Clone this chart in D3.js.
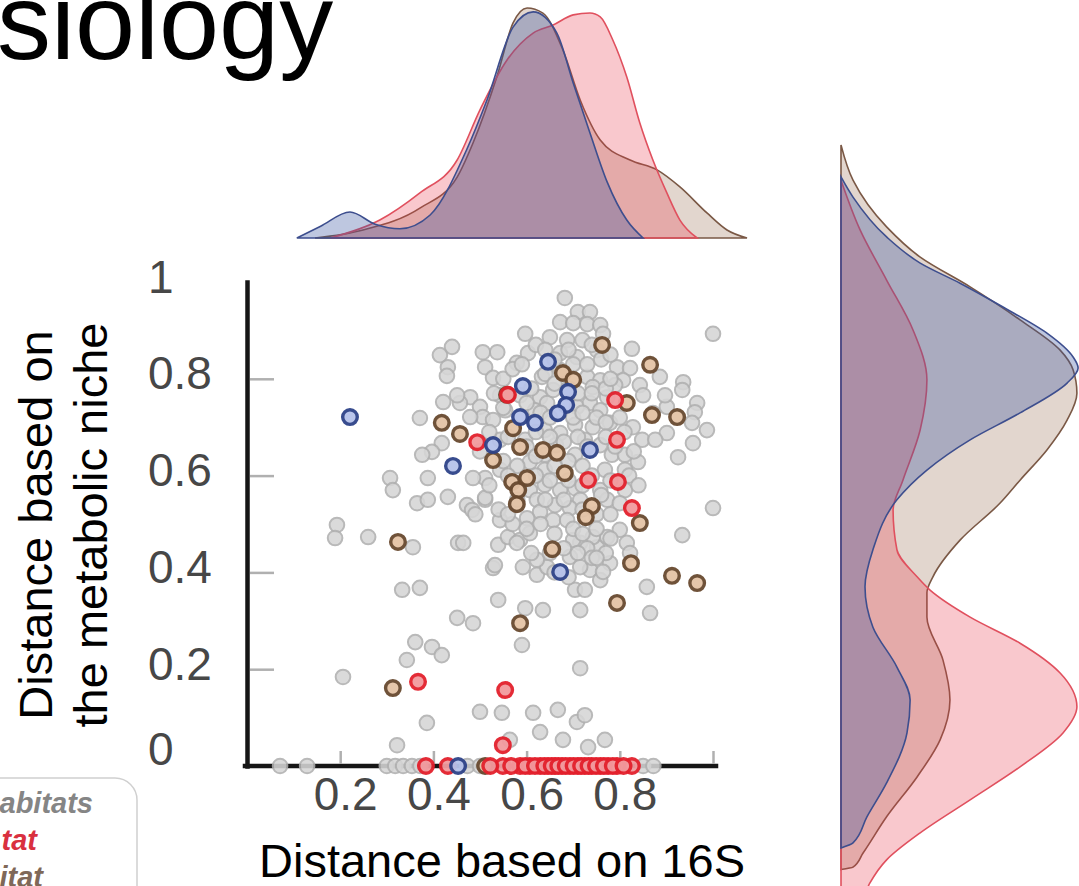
<!DOCTYPE html>
<html>
<head>
<meta charset="utf-8">
<script src="https://cdn.jsdelivr.net/npm/d3@7"></script>
<style>
  html, body { margin: 0; padding: 0; background: #fff; overflow: hidden; }
  svg { display: block; font-family: "Liberation Sans", Arial, sans-serif; }
</style>
</head>
<body>
<svg id="chart"></svg>
<script>
// scatter points [16S distance, metabolic niche distance]
const grayPts = [
  [0.682,0.967],[0.710,0.938],[0.736,0.938],[0.672,0.917],[0.700,0.915],[0.730,0.913],[0.758,0.911],
  [0.764,0.893],[0.597,0.893],[0.650,0.886],[0.687,0.880],[0.826,0.862],[0.751,0.859],[1.0,0.893],
  [0.440,0.866],[0.414,0.849],[0.506,0.855],[0.537,0.855],[0.603,0.853],[0.579,0.833],[0.511,0.824],
  [0.528,0.802],[0.431,0.824],[0.429,0.806],[0.886,0.804],[0.936,0.793],[0.934,0.777],[0.672,0.853],
  [0.708,0.845],[0.672,0.818],[0.794,0.824],[0.822,0.822],[0.807,0.797],[0.730,0.804],[0.758,0.797],
  [0.742,0.783],[0.633,0.804],[0.479,0.762],[0.457,0.750],[0.500,0.742],[0.506,0.721],[0.479,0.721],
  [0.451,0.766],[0.421,0.752],[0.629,0.762],[0.644,0.750],[0.657,0.777],[0.708,0.742],[0.736,0.750],
  [0.758,0.735],[0.773,0.762],[0.528,0.715],[0.871,0.729],[0.742,0.700],[0.779,0.709],[0.966,0.750],
  [0.961,0.731],[0.901,0.742],[0.901,0.688],[0.987,0.694],[0.955,0.709],[0.957,0.667],[0.371,0.719],
  [0.418,0.667],[0.397,0.649],[0.376,0.643],[0.848,0.674],[0.839,0.628],[0.925,0.638],[0.307,0.595],
  [0.313,0.570],[0.388,0.595],[0.365,0.543],[0.388,0.550],[0.431,0.556],[0.472,0.539],[0.483,0.529],
  [0.511,0.550],[0.543,0.508],[0.193,0.498],[0.189,0.471],[1.0,0.533],[0.260,0.473],[0.356,0.452],
  [0.453,0.461],[0.539,0.457],[0.560,0.473],[0.586,0.467],[0.607,0.481],[0.592,0.411],[0.622,0.395],
  [0.644,0.411],[0.528,0.409],[0.715,0.461],[0.751,0.452],[0.773,0.473],[0.736,0.405],[0.758,0.384],
  [0.779,0.419],[0.704,0.364],[0.725,0.364],[0.934,0.477],[0.858,0.370],[0.865,0.316],[0.333,0.364],
  [0.371,0.368],[0.539,0.343],[0.597,0.326],[0.635,0.322],[0.715,0.322],[0.451,0.306],[0.485,0.295],
  [0.590,0.250],[0.361,0.256],[0.397,0.246],[0.418,0.229],[0.343,0.219],[0.715,0.202],[0.206,0.184],
  [0.500,0.112],[0.547,0.110],[0.614,0.110],[0.667,0.116],[0.708,0.091],[0.725,0.105],[0.386,0.089],
  [0.629,0.070],[0.678,0.054],[0.768,0.054],[0.732,0.039],[0.322,0.043],[0.564,0.054],
  [0.639,0.694],[0.704,0.705],[0.725,0.674],[0.758,0.663],[0.783,0.643],[0.811,0.643],[0.704,0.643],
  [0.768,0.612],[0.811,0.612],[0.639,0.612],[0.607,0.628],[0.543,0.612],[0.607,0.570],[0.639,0.581],
  [0.672,0.570],[0.704,0.574],[0.758,0.570],[0.811,0.570],[0.661,0.539],[0.715,0.550],[0.622,0.550],
  [0.629,0.525],[0.693,0.533],[0.601,0.512],[0.657,0.508],[0.687,0.508],[0.773,0.550],[0.800,0.543],
  [0.742,0.473],[0.800,0.488],[0.700,0.467],[0.730,0.450],[0.579,0.461],[0.622,0.426],[0.693,0.432],
  [0.715,0.411],[0.764,0.401],[0.815,0.461],[0.822,0.440],[0.532,0.415],[0.464,0.461],[0.828,0.700],
  [0.511,0.595],[0.485,0.595],[0.511,0.554],[0.543,0.674],[0.586,0.766],[0.618,0.735],[0.597,0.674],
  [0.672,0.688],[0.790,0.787],[0.843,0.787],[0.850,0.766],[0.897,0.766],[0.543,0.766],[0.554,0.735],
  [0.663,0.663],[0.639,0.643],[0.876,0.674],
  [0.62,0.87],[0.64,0.86],[0.66,0.84],[0.69,0.86],[0.72,0.88],[0.74,0.87],[0.70,0.83],[0.73,0.83],
  [0.76,0.84],[0.78,0.85],[0.64,0.81],[0.66,0.79],[0.69,0.78],[0.71,0.77],[0.74,0.77],[0.77,0.78],
  [0.78,0.80],[0.61,0.78],[0.60,0.75],[0.63,0.73],[0.65,0.72],[0.70,0.72],[0.72,0.73],[0.75,0.72],
  [0.77,0.71],[0.80,0.72],[0.62,0.69],[0.65,0.68],[0.68,0.67],[0.71,0.68],[0.73,0.66],[0.77,0.68],
  [0.79,0.66],[0.60,0.66],[0.62,0.64],[0.66,0.62],[0.69,0.63],[0.72,0.62],[0.74,0.60],[0.78,0.59],
  [0.58,0.62],[0.62,0.60],[0.65,0.59],[0.69,0.59],[0.72,0.58],[0.76,0.56],[0.58,0.55],[0.64,0.55],
  [0.68,0.55],[0.72,0.53],[0.75,0.52],[0.78,0.52],[0.60,0.49],[0.63,0.50],[0.66,0.48],[0.70,0.49],
  [0.72,0.48],[0.75,0.49],[0.78,0.47],[0.57,0.50],[0.61,0.44],[0.65,0.44],[0.68,0.45],[0.71,0.44],
  [0.74,0.43],[0.77,0.44],[0.66,0.40],[0.69,0.39],[0.75,0.43],[0.55,0.80],[0.57,0.82],[0.59,0.83],
  [0.53,0.77],[0.55,0.74],[0.52,0.69],[0.56,0.68],[0.50,0.65],[0.55,0.63],[0.52,0.58],[0.56,0.60],
  [0.54,0.53],[0.56,0.52],[0.49,0.52],[0.82,0.60],[0.84,0.58],[0.83,0.65],[0.81,0.69],
  [0.071,0],[0.129,0],[0.300,0],[0.318,0],[0.335,0],[0.354,0],[0.372,0],[0.473,0],[0.500,0],
  [0.850,0],[0.872,0]
]
const brownPts = [
  [0.762,0.870],[0.865,0.829],[0.678,0.812],[0.700,0.798],[0.558,0.767],[0.815,0.750],[0.869,0.725],
  [0.923,0.721],[0.418,0.709],[0.457,0.686],[0.571,0.698],[0.528,0.632],[0.586,0.659],[0.635,0.653],
  [0.665,0.647],[0.682,0.605],[0.569,0.587],[0.601,0.595],[0.582,0.570],[0.579,0.541],[0.740,0.537],
  [0.727,0.514],[0.843,0.502],[0.324,0.463],[0.655,0.448],[0.824,0.419],[0.912,0.393],[0.966,0.378],
  [0.794,0.337],[0.586,0.295],[0.313,0.161],[0.511,0]
]
const redPts = [
  [0.560,0.767],[0.494,0.669],[0.790,0.756],[0.794,0.674],[0.732,0.591],[0.796,0.587],[0.826,0.533],
  [0.367,0.174],[0.554,0.157],[0.549,0.043],
  [0.384,0],[0.431,0],[0.549,0],[0.586,0],[0.607,0],[0.629,0],[0.646,0],[0.661,0],[0.676,0],
  [0.693,0],[0.710,0],[0.725,0],[0.740,0],[0.758,0],[0.775,0],[0.794,0],[0.826,0],
  [0.522,0],[0.567,0],[0.597,0],[0.618,0],[0.638,0],[0.654,0],[0.668,0],[0.684,0],[0.701,0],
  [0.717,0],[0.733,0],[0.749,0],[0.766,0],[0.785,0],[0.808,0]
]
const bluePts = [
  [0.221,0.721],[0.646,0.835],[0.592,0.785],[0.689,0.773],[0.685,0.746],[0.586,0.721],[0.618,0.709],
  [0.667,0.729],[0.736,0.653],[0.528,0.663],[0.442,0.620],[0.672,0.401],[0.453,0]
]

// marginal densities: [value, relative height]
const topBlue = [[0.107,0],[0.157,0.05],[0.221,0.113],[0.275,0.06],[0.328,0.04],[0.393,0.10],[0.472,0.387],
  [0.515,0.60],[0.571,0.917],[0.614,0.983],[0.665,0.891],[0.700,0.674],[0.736,0.457],[0.773,0.243],
  [0.815,0.078],[0.850,0]]
const topBrown = [[0.146,0],[0.249,0.035],[0.371,0.13],[0.451,0.265],[0.485,0.413],[0.536,0.70],[0.571,0.935],
  [0.601,1.0],[0.635,0.978],[0.678,0.817],[0.715,0.60],[0.758,0.426],[0.822,0.339],[0.880,0.296],
  [0.929,0.222],[0.987,0.109],[1.030,0.035],[1.073,0]]
const topRed = [[0.178,0],[0.285,0.078],[0.371,0.196],[0.451,0.339],[0.500,0.557],[0.558,0.774],[0.614,0.891],
  [0.657,0.926],[0.700,0.970],[0.736,0.978],[0.758,0.961],[0.785,0.861],[0.815,0.70],[0.843,0.50],
  [0.871,0.339],[0.901,0.196],[0.929,0.078],[0.966,0]]

const rightBlue = [[1.142,0],[1.098,0.05],[1.011,0.19],[0.954,0.33],[0.910,0.496],[0.858,0.675],[0.801,0.858],
  [0.749,0.967],[0.725,0.988],[0.692,0.942],[0.627,0.746],[0.568,0.538],[0.502,0.358],[0.437,0.233],
  [0.328,0.133],[0.247,0.10],[0.159,0.133],[0.072,0.233],[0.0,0.288],[-0.072,0.275],[-0.181,0.19],
  [-0.255,0.108],[-0.312,0.05],[-0.323,0]]
const rightBrown = [[1.212,0],[1.135,0.05],[1.033,0.19],[0.967,0.33],[0.902,0.538],[0.830,0.746],[0.764,0.913],
  [0.721,0.967],[0.670,0.983],[0.611,0.942],[0.546,0.858],[0.480,0.746],[0.430,0.663],[0.349,0.496],
  [0.269,0.383],[0.234,0.358],[0.181,0.358],[0.087,0.425],[0.0,0.454],[-0.087,0.413],[-0.168,0.317],
  [-0.255,0.19],[-0.334,0.092],[-0.365,0.05],[-0.37,0]]
const rightRed = [[1.135,0],[1.026,0.08],[0.917,0.19],[0.808,0.30],[0.699,0.358],[0.590,0.33],[0.480,0.258],
  [0.415,0.217],[0.328,0.233],[0.269,0.317],[0.240,0.371],[0.181,0.538],[0.124,0.746],[0.059,0.913],
  [-0.015,0.983],[-0.072,0.925],[-0.146,0.746],[-0.218,0.538],[-0.290,0.33],[-0.349,0.19],[-0.400,0.12],
  [-0.45,0.08],[-0.5,0]]

const xTicks = [0.2, 0.4, 0.6, 0.8, 1]
const yTicks = [0, 0.2, 0.4, 0.6, 0.8, 1]
const titleText = "siology"
const xLabel = "Distance based on 16S"
const yLabelLines = ["Distance based on", "the metabolic niche"]
const legendLabels = ["abitats", "tat", "itat"]

const width = 1079
const height = 886

const colors = {
  gray: { fill: "#d6d6d6", stroke: "#b0b0b0" },
  brown: { fill: "#e4c3a6", stroke: "#68492f", dens: "#8b5a3c", line: "#7a5845" },
  red: { fill: "#f29a9e", stroke: "#e3202c", dens: "#e8394a", line: "#e0505e" },
  blue: { fill: "#b6c2ea", stroke: "#2e4389", dens: "#3b55a0", line: "#3d4e8e" }
}

const svg = d3.select("#chart")
  .attr("width", width)
  .attr("height", height)
  .attr("viewBox", [0, 0, width, height])

// scales
const x = d3.scaleLinear().domain([0, 1]).range([247, 713])
const y = d3.scaleLinear().domain([0, 1]).range([766, 282])
const topH = d3.scaleLinear().domain([0, 1]).range([238, 8])
const rightV = d3.scaleLinear().domain([0, 1]).range([700, 242])
const rightW = d3.scaleLinear().domain([0, 1]).range([841, 1081])

// title fragment
svg.append("text")
  .attr("x", -3)
  .attr("y", 59)
  .attr("font-size", 108)
  .attr("fill", "#000")
  .text(titleText)

// top marginal density
const topArea = d3.area()
  .x(d => x(d[0]))
  .y0(topH(0))
  .y1(d => topH(d[1]))
  .curve(d3.curveMonotoneX)

const topSeries = [
  { data: topBrown, c: colors.brown, a: 0.25 },
  { data: topRed, c: colors.red, a: 0.28 },
  { data: topBlue, c: colors.blue, a: 0.33 }
]
svg.append("g")
  .selectAll("path")
  .data(topSeries)
  .join("path")
  .attr("d", d => topArea(d.data))
  .attr("fill", d => d.c.dens)
  .attr("fill-opacity", d => d.a)
  .attr("stroke", d => d.c.line)
  .attr("stroke-width", 1.6)

// right marginal density
const rightArea = d3.area()
  .y(d => rightV(d[0]))
  .x0(rightW(0))
  .x1(d => rightW(d[1]))
  .curve(d3.curveMonotoneY)

const rightSeries = [
  { data: rightBrown, c: colors.brown, a: 0.25 },
  { data: rightRed, c: colors.red, a: 0.28 },
  { data: rightBlue, c: colors.blue, a: 0.33 }
]
svg.append("g")
  .selectAll("path")
  .data(rightSeries)
  .join("path")
  .attr("d", d => rightArea(d.data))
  .attr("fill", d => d.c.dens)
  .attr("fill-opacity", d => d.a)
  .attr("stroke", d => d.c.line)
  .attr("stroke-width", 1.6)

// axes
const yAxis = svg.append("g")
  .attr("transform", `translate(${x(0)},0)`)
  .call(d3.axisLeft(y).tickValues(yTicks).tickSize(-27).tickSizeOuter(0).tickFormat(d3.format("")))
yAxis.select(".domain").attr("stroke", "#161616").attr("stroke-width", 4.5).attr("stroke-linecap", "square")
yAxis.selectAll(".tick line")
  .attr("stroke", "#b0b0b0")
  .attr("stroke-width", 2.5)
  .attr("x1", 3)
  .attr("visibility", d => (d === 0 || d === 1) ? "hidden" : "visible")
yAxis.selectAll(".tick text")
  .attr("x", -99)
  .attr("dy", d => d === 0 ? -2 : 10)
  .attr("text-anchor", "start")
  .attr("font-size", 46)
  .attr("fill", "#474747")

const xAxis = svg.append("g")
  .attr("transform", `translate(0,${y(0)})`)
  .call(d3.axisBottom(x).tickValues(xTicks).tickSize(-15).tickSizeOuter(0)
    .tickPadding(11).tickFormat(d => d === 1 ? "" : d3.format("")(d)))
xAxis.select(".domain").attr("stroke", "#161616").attr("stroke-width", 4.5).attr("stroke-linecap", "square")
  .attr("d", `M${x(0) - 2},0H${x(1) + 3}`)
xAxis.selectAll(".tick line")
  .attr("stroke", "#b0b0b0")
  .attr("stroke-width", 2.5)
  .attr("y1", -2)
xAxis.selectAll(".tick text")
  .attr("dx", 5)
  .attr("font-size", 46)
  .attr("fill", "#474747")

// scatter points
const groups = [
  { pts: grayPts, c: colors.gray, w: 2, op: 0.88 },
  { pts: brownPts, c: colors.brown, w: 3.4, op: 0.95 },
  { pts: redPts, c: colors.red, w: 3.4, op: 0.95 },
  { pts: bluePts, c: colors.blue, w: 3.4, op: 0.95 }
]
groups.forEach(g => {
  svg.append("g")
    .selectAll("circle")
    .data(g.pts)
    .join("circle")
    .attr("cx", d => x(d[0]))
    .attr("cy", d => y(d[1]))
    .attr("r", 7.3)
    .attr("fill", g.c.fill)
    .attr("stroke", g.c.stroke)
    .attr("stroke-width", g.w)
    .attr("opacity", g.op)
})

// axis titles
svg.append("text")
  .attr("x", 502)
  .attr("y", 877)
  .attr("text-anchor", "middle")
  .attr("font-size", 47)
  .attr("fill", "#000")
  .text(xLabel)

svg.selectAll(".ylab")
  .data(yLabelLines)
  .join("text")
  .attr("class", "ylab")
  .attr("transform", (d, i) => `translate(${52 + i * 55},525) rotate(-90)`)
  .attr("text-anchor", "middle")
  .attr("font-size", 47)
  .attr("fill", "#000")
  .text(d => d)

// cut-off legend box in the lower left
svg.append("rect")
  .attr("x", -40)
  .attr("y", 778)
  .attr("width", 177)
  .attr("height", 140)
  .attr("rx", 22)
  .attr("fill", "#fff")
  .attr("stroke", "#d0d0d0")
  .attr("stroke-width", 1.5)

const legendColors = ["#858585", "#d9303f", "#7f6858"]
const legendEnds = [93, 37, 43]
svg.selectAll(".leg")
  .data(legendLabels)
  .join("text")
  .attr("class", "leg")
  .attr("x", (d, i) => legendEnds[i])
  .attr("y", (d, i) => 813 + i * 37)
  .attr("text-anchor", "end")
  .attr("font-size", 29)
  .attr("font-weight", "bold")
  .attr("font-style", "italic")
  .attr("fill", (d, i) => legendColors[i])
  .text(d => d)
</script>
</body>
</html>
